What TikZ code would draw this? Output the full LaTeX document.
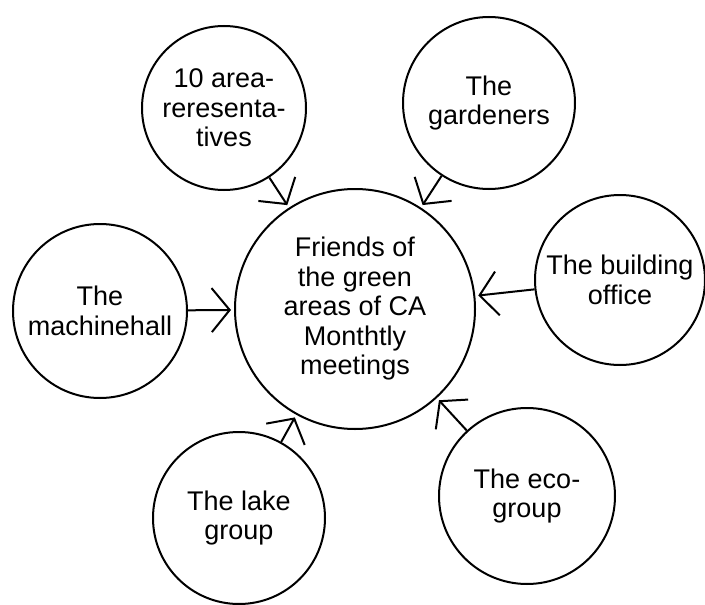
\documentclass[tikz,border=0pt]{standalone}
\usepackage{fontspec}
\setmainfont{Liberation Sans}
\usetikzlibrary{arrows.meta}

\begin{document}
\begin{tikzpicture}[
    x=1pt, y=-1pt,
    font=\fontsize{27}{29.5}\selectfont,
    hubbox/.style={draw, circle, line width=2pt, align=center, inner sep=0pt, minimum size=240pt},
    groupbox/.style={draw, circle, line width=2pt, align=center, inner sep=0pt, minimum size=#1},
    groupbox/.default=172pt,
    arrow/.style={-{Straight Barb[length=18pt, width=44pt, line width=2pt]}, line width=2pt, shorten >=3pt}
]
\useasboundingbox (0,0) rectangle (705,605);

% Monthly meeting in the middle
\node[hubbox] (hub) at (355,309) {Friends of\\the green\\areas of CA\\Monthtly\\meetings};

% Groups around it
\node[groupbox=164pt] (reps) at (224,108) {10 area-\\reresenta-\\tives};
\node[groupbox] (gardeners) at (489,103) {The\\gardeners};
\node[groupbox=170pt] (building) at (620,280) {The building\\office};
\node[groupbox=174pt] (machinehall) at (100,311) {The\\machinehall};
\node[groupbox] (lake) at (239,518) {The lake\\group};
\node[groupbox=176pt] (eco) at (527,496) {The eco-\\group};

% Everyone reports to the meeting
\draw[arrow] (reps) -- (hub);
\draw[arrow] (gardeners) -- (hub);
\draw[arrow] (building) -- (hub);
\draw[arrow] (machinehall) -- (hub);
\draw[arrow] (lake) -- (hub);
\draw[arrow] (eco) -- (hub);
\end{tikzpicture}
\end{document}
